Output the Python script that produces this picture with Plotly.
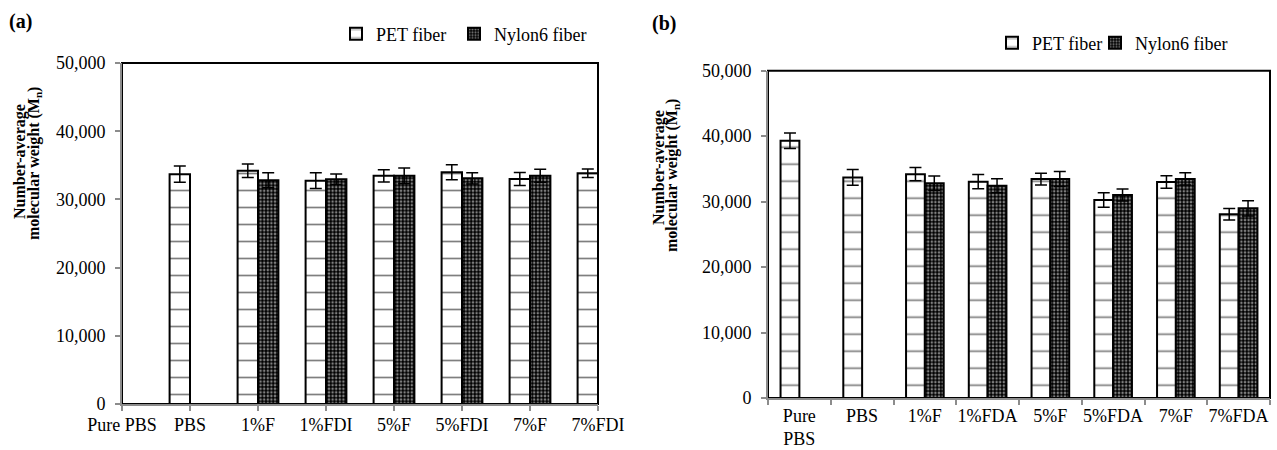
import plotly.graph_objects as go

# Panel (a): PBS blends with fibers, FDI series
cats_a = ["Pure PBS", "PBS", "1%F", "1%FDI", "5%F", "5%FDI", "7%F", "7%FDI"]
pet_a = [None, 33700, 34200, 32750, 33450, 33970, 33000, 33830]
pet_a_err = [None, 1200, 1000, 1150, 900, 1100, 950, 630]
nylon_a = [None, None, 32800, 32950, 33450, 33090, 33470, None]
nylon_a_err = [None, None, 1100, 770, 1150, 820, 950, None]

# Panel (b): PBS blends with fibers, FDA series
cats_b = ["Pure<br>PBS", "PBS", "1%F", "1%FDA", "5%F", "5%FDA", "7%F", "7%FDA"]
pet_b = [39300, 33700, 34200, 33050, 33450, 30250, 33000, 28060]
pet_b_err = [1200, 1200, 1000, 1100, 900, 1100, 950, 870]
nylon_b = [None, None, 32800, 32430, 33450, 31010, 33470, 28980]
nylon_b_err = [None, None, 1100, 1070, 1150, 920, 950, 1160]

W, H = 1277, 450
FONT = "Liberation Serif"
AXIS_GREY = "#8c8c8c"
BAR_W = 0.3

xa = list(range(len(cats_a)))               # categories sit on tick marks
xb = [i + 0.5 for i in range(len(cats_b))]  # categories sit between tick marks

pet_style = dict(
    color="white",
    line=dict(color="black", width=2),
    pattern=dict(shape="-", fgcolor="black", bgcolor="white", size=17, solidity=0.1),
)
nylon_style = dict(
    color="black",
    line=dict(color="black", width=2),
    pattern=dict(shape=".", fgcolor="white", bgcolor="black", size=3.6, solidity=0.4),
)


def err(vals):
    return dict(type="data", array=vals, visible=True, color="black", thickness=1.5, width=6)


fig = go.Figure()

fig.add_trace(go.Bar(x=xa, y=pet_a, error_y=err(pet_a_err), offset=-BAR_W, width=BAR_W,
                     marker=pet_style, name="PET fiber", xaxis="x", yaxis="y", legend="legend"))
fig.add_trace(go.Bar(x=xa, y=nylon_a, error_y=err(nylon_a_err), offset=0, width=BAR_W,
                     marker=nylon_style, name="Nylon6 fiber", xaxis="x", yaxis="y", legend="legend2"))
fig.add_trace(go.Bar(x=xb, y=pet_b, error_y=err(pet_b_err), offset=-BAR_W, width=BAR_W,
                     marker=pet_style, name="PET fiber", xaxis="x2", yaxis="y2", legend="legend3"))
fig.add_trace(go.Bar(x=xb, y=nylon_b, error_y=err(nylon_b_err), offset=0, width=BAR_W,
                     marker=nylon_style, name="Nylon6 fiber", xaxis="x2", yaxis="y2", legend="legend4"))

tickfont = dict(family=FONT, size=18, color="black")

yaxis_common = dict(
    range=[0, 50000], tickvals=[0, 10000, 20000, 30000, 40000, 50000], tickformat=",",
    showline=True, linecolor=AXIS_GREY, linewidth=2, ticks="outside", ticklen=5,
    tickcolor=AXIS_GREY, tickwidth=1.5, showgrid=False, zeroline=False,
    tickfont=tickfont, ticklabelstandoff=6, automargin=False,
)


def legend_at(x_px, y_px):
    return dict(
        orientation="h", x=x_px / W, y=1 - y_px / H, xanchor="left", yanchor="middle",
        font=dict(family=FONT, size=18), bgcolor="rgba(0,0,0,0)",
    )


fig.update_layout(
    width=W, height=H,
    margin=dict(l=0, r=0, t=0, b=0, autoexpand=False),
    paper_bgcolor="white", plot_bgcolor="white",
    barmode="overlay",
    font=dict(family=FONT, size=18, color="black"),
    xaxis=dict(
        domain=[122 / W, 598 / W], range=[0, 7], tickvals=xa, ticktext=cats_a,
        showline=True, linecolor=AXIS_GREY, linewidth=2, ticks="outside", ticklen=5,
        tickcolor=AXIS_GREY, tickwidth=1.5, showgrid=False, zeroline=False,
        tickfont=tickfont, ticklabelstandoff=-2, anchor="y", automargin=False,
    ),
    yaxis=dict(domain=[(H - 404) / H, (H - 63) / H], anchor="x", **yaxis_common),
    xaxis2=dict(
        domain=[768 / W, 1270 / W], range=[0, 8], tickvals=xb, ticktext=cats_b,
        showline=True, linecolor=AXIS_GREY, linewidth=2, ticks="",
        minor=dict(tickvals=list(range(9)), ticks="outside", ticklen=5,
                   tickcolor=AXIS_GREY, tickwidth=1.5, showgrid=False),
        showgrid=False, zeroline=False, tickfont=tickfont, ticklabelstandoff=0,
        anchor="y2", automargin=False,
    ),
    yaxis2=dict(domain=[(H - 398) / H, (H - 70.7) / H], anchor="x2", **yaxis_common),
    legend=legend_at(336, 34),
    legend2=legend_at(454, 34),
    legend3=legend_at(992, 43),
    legend4=legend_at(1095, 43),
    showlegend=True,
)

# Plot-area frames
for xr, yr in (("x domain", "y domain"), ("x2 domain", "y2 domain")):
    fig.add_shape(type="rect", xref=xr, yref=yr, x0=0, x1=1, y0=0, y1=1,
                  line=dict(color="black", width=2), layer="below")

# Two-line rotated y-axis titles, one annotation per line for tight spacing
title_lines = ["<b>Number-average</b>", "<b>molecular weight (M<sub>n</sub>)</b>"]
for (x1, y1), (x2, y2) in (((20, 162), (34, 164)), ((659, 168), (673, 175))):
    for text, xp, yp in ((title_lines[0], x1, y1), (title_lines[1], x2, y2)):
        fig.add_annotation(text=text, textangle=-90, xref="paper", yref="paper",
                           x=xp / W, y=1 - yp / H, xanchor="center", yanchor="middle",
                           showarrow=False, font=dict(family=FONT, size=16, color="black"))

fig.add_annotation(text="<b>(a)</b>", xref="paper", yref="paper", x=7 / W, y=1 - 22 / H,
                   xanchor="left", yanchor="middle", showarrow=False,
                   font=dict(family=FONT, size=20, color="black"))
fig.add_annotation(text="<b>(b)</b>", xref="paper", yref="paper", x=650 / W, y=1 - 23 / H,
                   xanchor="left", yanchor="middle", showarrow=False,
                   font=dict(family=FONT, size=20, color="black"))

fig.write_html("out.html")
